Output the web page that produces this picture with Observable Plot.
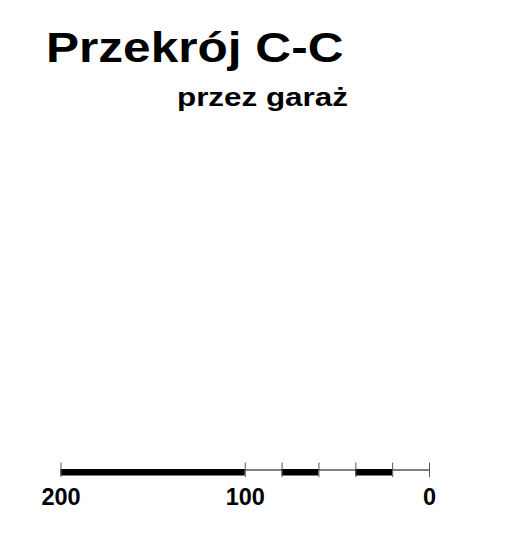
<!DOCTYPE html>
<html>
<head>
<meta charset="utf-8">
<script src="https://cdn.jsdelivr.net/npm/d3@7"></script>
<script src="https://cdn.jsdelivr.net/npm/@observablehq/plot@0.6"></script>
<style>
  html, body { margin: 0; padding: 0; background: #fff; }
  #wrap { position: relative; width: 509px; height: 539px; overflow: hidden; }
  .t { position: absolute; font-family: Arial, "Liberation Sans", sans-serif; font-weight: bold; line-height: 1; white-space: nowrap; color: #000; transform-origin: 0 0; }
  #title { left: 46px; top: 26.7px; font-size: 42px; transform: scaleX(1.18); }
  #subtitle { left: 177px; top: 85.4px; font-size: 25.5px; transform: scaleX(1.23); }
  #chart { position: absolute; left: 0; top: 0; }
</style>
</head>
<body>
<div id="wrap">
  <div id="chart"></div>
  <div class="t" id="title">Przekrój C-C</div>
  <div class="t" id="subtitle">przez garaż</div>
</div>
<script>
// scale-bar divisions (units, 200 -> 0)
const tickValues = [200, 100, 80, 60, 40, 20, 0];
const labelValues = [200, 100, 0];
const segFrom = [200, 100, 80, 60, 40, 20];
const segTo   = [100, 80, 60, 40, 20, 0];
const segFilled = [true, false, true, false, true, false];

const segments = segFrom.map((f, i) => ({from: f, to: segTo[i], filled: segFilled[i]}));

const chart = Plot.plot({
  width: 509,
  height: 539,
  marginLeft: 60.5,
  marginRight: 80,
  marginTop: 462.5,
  marginBottom: 62,
  x: {domain: [200, 0], axis: null},
  y: {domain: [-7.5, 7], axis: null},
  style: {fontFamily: 'Arial, "Liberation Sans", sans-serif', background: "transparent"},
  marks: [
    Plot.ruleY([0], {stroke: "#000", strokeWidth: 1}),
    Plot.rect(segments.filter(d => d.filled), {x1: "from", x2: "to", y1: 0.5, y2: -6, fill: "#000"}),
    Plot.ruleX(tickValues, {x: d => d, y1: -7.5, y2: 7, stroke: "#555", strokeWidth: 1}),
    Plot.text(labelValues, {x: d => d, y: -7.5, text: d => String(d), lineAnchor: "top", dy: 10.5, fontSize: 23.5, fontWeight: "bold", fill: "#000"})
  ]
});
document.getElementById("chart").appendChild(chart);
</script>
</body>
</html>
